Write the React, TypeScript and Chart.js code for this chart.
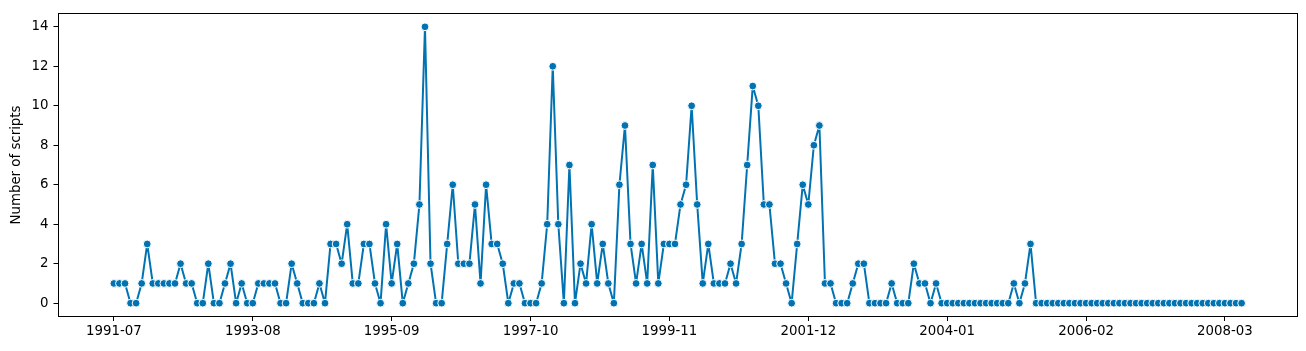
import React, { useEffect, useRef } from 'react';
import { Chart, registerables } from 'chart.js';

Chart.register(...registerables);

// Monthly number of scripts, 1991-07 .. 2008-06 (one value per month)
const scriptCounts: number[] = [
  1, 1, 1, 0, 0, 1, 3, 1, 1, 1, 1, 1, 2, 1, 1, 0, 0, 2, 0, 0,
  1, 2, 0, 1, 0, 0, 1, 1, 1, 1, 0, 0, 2, 1, 0, 0, 0, 1, 0, 3,
  3, 2, 4, 1, 1, 3, 3, 1, 0, 4, 1, 3, 0, 1, 2, 5, 14, 2, 0, 0,
  3, 6, 2, 2, 2, 5, 1, 6, 3, 3, 2, 0, 1, 1, 0, 0, 0, 1, 4, 12,
  4, 0, 7, 0, 2, 1, 4, 1, 3, 1, 0, 6, 9, 3, 1, 3, 1, 7, 1,
  3, 3, 3, 5, 6, 10, 5, 1, 3, 1, 1, 1, 2, 1, 3, 7, 11, 10, 5, 5,
  2, 2, 1, 0, 3, 6, 5, 8, 9, 1, 1, 0, 0, 0, 1, 2, 2, 0, 0, 0,
  0, 1, 0, 0, 0, 2, 1, 1, 0, 1, 0,
  0, 0, 0, 0, 0, 0, 0, 0, 0, 0, 0,
  0, 1, 0, 1, 3, 0,
  0, 0, 0, 0, 0, 0, 0, 0, 0, 0, 0, 0, 0, 0, 0, 0, 0, 0, 0, 0,
  0, 0, 0, 0, 0, 0, 0, 0, 0, 0, 0, 0, 0, 0, 0, 0, 0,
];

const xTickLabels: string[] = [
  '1991-07', '1993-08', '1995-09', '1997-10', '1999-11',
  '2001-12', '2004-01', '2006-02', '2008-03',
];
// month offsets (from 1991-07) of the tick labels above
const xTickPositions: number[] = [0, 25, 50, 75, 100, 125, 150, 175, 200];
const yTickValues: number[] = [0, 2, 4, 6, 8, 10, 12, 14];
const yTitle = 'Number of scripts';

const lineColor = '#0173b2';
const fontFamily = '"DejaVu Sans", sans-serif';
const fontSize = 13.33;

const framePlugin = {
  id: 'frame',
  afterDraw(chart: any) {
    const { ctx, chartArea: a } = chart;
    const l = Math.round(a.left) + 0.5;
    const t = Math.round(a.top) + 0.5;
    const r = Math.round(a.right) - 0.5;
    const b = Math.round(a.bottom) - 0.5;
    ctx.save();
    ctx.strokeStyle = '#000';
    ctx.lineWidth = 1;
    ctx.strokeRect(l, t, r - l, b - t);
    ctx.restore();
  },
};

export default function App() {
  const ref = useRef<HTMLCanvasElement | null>(null);

  useEffect(() => {
    document.body.style.margin = '0';
    const canvas = ref.current;
    if (!canvas) return;
    const n = scriptCounts.length;
    const span = n - 1;
    const chart = new Chart(canvas, {
      type: 'line',
      data: {
        datasets: [
          {
            data: scriptCounts.map((v, i) => ({ x: i, y: v })),
            borderColor: lineColor,
            borderWidth: 2,
            borderJoinStyle: 'round',
            borderCapStyle: 'round',
            backgroundColor: lineColor,
            pointBackgroundColor: lineColor,
            pointBorderColor: '#ffffff',
            pointBorderWidth: 1,
            pointRadius: 3.9,
            tension: 0,
            fill: false,
          },
        ],
      },
      options: {
        animation: false,
        responsive: false,
        maintainAspectRatio: false,
        layout: { padding: { top: 9, right: 8, left: 0, bottom: 0 } },
        plugins: {
          legend: { display: false },
          tooltip: { enabled: false },
        },
        scales: {
          x: {
            type: 'linear',
            min: -0.05 * span,
            max: span * 1.05,
            afterBuildTicks: (scale: any) => {
              scale.ticks = xTickPositions.map((v) => ({ value: v }));
            },
            afterFit: (scale: any) => {
              scale.height = 34;
            },
            ticks: {
              autoSkip: false,
              maxRotation: 0,
              padding: 3,
              color: '#000',
              font: { family: fontFamily, size: fontSize },
              callback: (value: any) => {
                const idx = xTickPositions.indexOf(Number(value));
                return idx >= 0 ? xTickLabels[idx] : '';
              },
            },
            grid: {
              display: true,
              drawOnChartArea: false,
              drawTicks: true,
              tickLength: 4,
              color: '#000',
              lineWidth: 1,
            },
            border: { display: false },
          },
          y: {
            type: 'linear',
            min: -0.7,
            max: 14.7,
            afterBuildTicks: (scale: any) => {
              scale.ticks = yTickValues.map((v) => ({ value: v }));
            },
            afterFit: (scale: any) => {
              scale.width = 57.5;
            },
            ticks: {
              autoSkip: false,
              padding: 5,
              color: '#000',
              font: { family: fontFamily, size: fontSize },
              callback: (value: any) => String(value),
            },
            title: {
              display: true,
              text: yTitle,
              color: '#000',
              font: { family: fontFamily, size: fontSize },
              padding: { top: 9, bottom: 0 },
            },
            grid: {
              display: true,
              drawOnChartArea: false,
              drawTicks: true,
              tickLength: 4,
              color: '#000',
              lineWidth: 1,
            },
            border: { display: false },
          },
        },
      },
      plugins: [framePlugin],
    } as any);
    return () => chart.destroy();
  }, []);

  return (
    <div style={{ width: 1306, height: 351 }}>
      <canvas ref={ref} width={1306} height={351} style={{ display: 'block' }} />
    </div>
  );
}
